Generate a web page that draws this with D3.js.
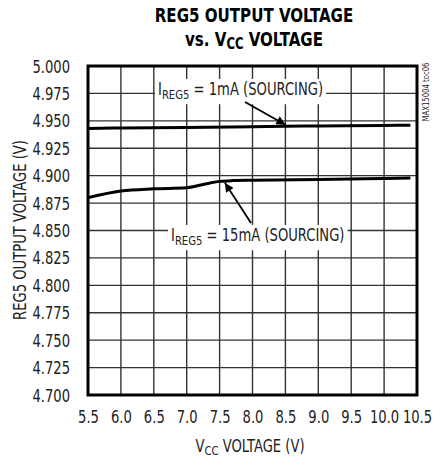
<!DOCTYPE html>
<html><head><meta charset="utf-8">
<script src="https://cdn.jsdelivr.net/npm/d3@7"></script>
<style>
body{margin:0;background:#fff;}
text{font-family:"DejaVu Sans Condensed","DejaVu Sans",sans-serif;font-stretch:condensed;}
</style></head>
<body><svg id="c" width="438" height="459"></svg>
<script>
const xTicks = [5.5,6.0,6.5,7.0,7.5,8.0,8.5,9.0,9.5,10.0,10.5];
const yTicks = [4.700,4.725,4.750,4.775,4.800,4.825,4.850,4.875,4.900,4.925,4.950,4.975,5.000];
const vcc1mA = [5.5,6.0,7.0,8.0,8.5,9.0,10.0,10.4];
const vout1mA = [4.943,4.9435,4.944,4.9445,4.945,4.9453,4.9458,4.946];
const vcc15mA = [5.5,6.0,6.5,7.0,7.25,7.5,7.7,8.0,9.0,10.0,10.4];
const vout15mA = [4.880,4.886,4.888,4.889,4.892,4.8948,4.8955,4.8958,4.8965,4.8974,4.8978];

const svg = d3.select("#c");
const L=88,R=417,T=66,B=395;
const x = d3.scaleLinear().domain([5.5,10.5]).range([L,R]);
const y = d3.scaleLinear().domain([4.7,5.0]).range([B,T]);
const SX = 0.86;  // horizontal squeeze to imitate a condensed face

// grid
svg.append("g").selectAll("line").data(xTicks).join("line")
  .attr("x1",d=>x(d)).attr("x2",d=>x(d)).attr("y1",T).attr("y2",B)
  .attr("stroke","#333").attr("stroke-width",1.4);
svg.append("g").selectAll("line").data(yTicks).join("line")
  .attr("y1",d=>y(d)).attr("y2",d=>y(d)).attr("x1",L).attr("x2",R)
  .attr("stroke","#333").attr("stroke-width",1.4);

function sq(g,px,py,anchor,size){
  return g.append("text").attr("transform",`translate(${px},${py}) scale(${SX},1)`)
    .attr("text-anchor",anchor).attr("font-size",size).attr("fill","#222");
}

const xa = svg.append("g").attr("transform",`translate(0,${B})`)
  .call(d3.axisBottom(x).tickValues(xTicks).tickFormat(d3.format(".1f")).tickSize(0));
const ya = svg.append("g").attr("transform",`translate(${L},0)`)
  .call(d3.axisLeft(y).tickValues(yTicks).tickFormat(d3.format(".3f")).tickSize(0));
xa.select(".domain").remove(); ya.select(".domain").remove();
xa.selectAll("text").attr("font-size",17).attr("fill","#222").attr("font-family",null)
  .attr("y",null).attr("dy",null).attr("transform",`translate(0,28) scale(${SX},1)`);
ya.selectAll("text").attr("font-size",17).attr("fill","#222").attr("font-family",null)
  .attr("x",null).attr("dy",null).attr("transform",`translate(-18,6) scale(${SX},1)`);

function label(xp,yp,pre,sub,post){
  const g=svg.append("g");
  const t=sq(g,xp,yp,"start",17);
  t.append("tspan").text(pre);
  t.append("tspan").attr("font-size",13).attr("dy",4).text(sub);
  t.append("tspan").attr("dy",-4).text(post);
  const bb=t.node().getBBox();
  g.insert("rect","text").attr("x",xp+bb.x*SX-3).attr("y",yp+bb.y).attr("width",bb.width*SX+6).attr("height",bb.height+2).attr("fill","#fff");
}
label(158,95,"I","REG5"," = 1mA (SOURCING)");
label(171,241,"I","REG5"," = 15mA (SOURCING)");

const line=d3.line().x(d=>x(d[0])).y(d=>y(d[1])).curve(d3.curveMonotoneX);
svg.append("path").datum(vcc1mA.map((v,i)=>[v,vout1mA[i]])).attr("d",line)
  .attr("fill","none").attr("stroke","#000").attr("stroke-width",3);
svg.append("path").datum(vcc15mA.map((v,i)=>[v,vout15mA[i]])).attr("d",line)
  .attr("fill","none").attr("stroke","#000").attr("stroke-width",3);

const defs=svg.append("defs");
defs.append("marker").attr("id","ah").attr("viewBox","0 0 10 10").attr("refX",10).attr("refY",5)
  .attr("markerWidth",7).attr("markerHeight",5).attr("markerUnits","strokeWidth").attr("orient","auto")
  .append("path").attr("d","M0,0L10,5L0,10z").attr("fill","#000");
function arrow(x1,y1,vx,vy){
  svg.append("line").attr("x1",x1).attr("y1",y1).attr("x2",x(vx)).attr("y2",y(vy))
   .attr("stroke","#000").attr("stroke-width",1.8).attr("marker-end","url(#ah)");
}
arrow(245,102,8.5,4.9465);
arrow(251,223,7.58,4.8935);

svg.append("rect").attr("x",L).attr("y",T).attr("width",R-L).attr("height",B-T)
  .attr("fill","none").attr("stroke","#000").attr("stroke-width",3);

sq(svg,254,22,"middle",19.5).attr("font-weight","bold").attr("fill","#000").text("REG5 OUTPUT VOLTAGE");
const t2=sq(svg,254,46,"middle",19.5).attr("font-weight","bold").attr("fill","#000");
t2.append("tspan").text("vs. V");
t2.append("tspan").attr("font-size",15).attr("dy",3).text("CC");
t2.append("tspan").attr("dy",-3).text(" VOLTAGE");

const xl=sq(svg,250,452,"middle",17);
xl.append("tspan").text("V");
xl.append("tspan").attr("font-size",13).attr("dy",3).text("CC");
xl.append("tspan").attr("dy",-3).text(" VOLTAGE (V)");

svg.append("text").attr("transform",`translate(26,230) rotate(-90) scale(${SX},1)`).attr("text-anchor","middle")
  .attr("font-size",17).attr("fill","#222").text("REG5 OUTPUT VOLTAGE (V)");

svg.append("text").attr("transform","translate(429,92) rotate(-90) scale(0.85,1)").attr("text-anchor","middle")
  .attr("font-size",9).attr("fill","#222").text("MAX15004 toc06");
</script></body></html>
